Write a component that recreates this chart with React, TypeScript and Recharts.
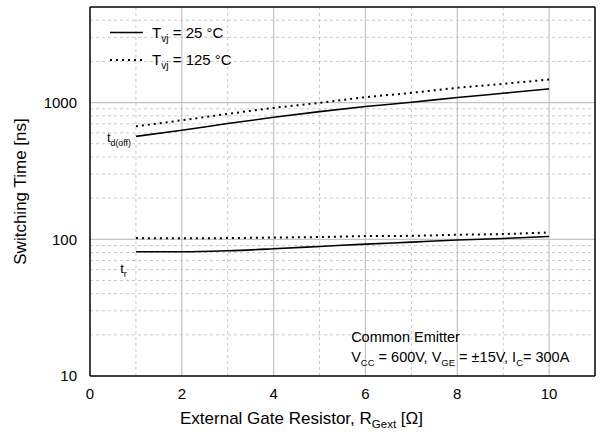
import React from 'react';
import {
  LineChart,
  Line,
  XAxis,
  YAxis,
  ReferenceLine,
  ReferenceDot,
  Label,
} from 'recharts';

// External gate resistor [Ohm]
const R_GEXT = [1, 2, 3, 4, 5, 6, 7, 8, 9, 10];
// switching times [ns]
const TD_OFF_25 = [566, 627, 702, 780, 859, 935, 1005, 1088, 1170, 1260];
const TD_OFF_125 = [670, 742, 826, 914, 995, 1094, 1178, 1282, 1371, 1473];
const TR_25 = [81, 81, 82.4, 85.2, 88.6, 92.2, 95.3, 98.7, 101.4, 104.9];
const TR_125 = [102, 101.8, 102, 103, 103.8, 105.5, 106, 107.9, 109.2, 112.2];

const X_TICKS = [0, 2, 4, 6, 8, 10];
const Y_TICKS = [10, 100, 1000];
const X_MAJOR = [2, 4, 6, 8, 10];
const X_MINOR = [1, 3, 5, 7, 9];
const Y_MAJOR = [100, 1000];
const Y_MINOR = [20, 30, 40, 50, 60, 70, 80, 90, 200, 300, 400, 500, 600, 700, 800, 900, 2000, 3000, 4000];

const FONT = '"Liberation Sans", Arial, sans-serif';

const chartData = R_GEXT.map((r, i) => ({
  r,
  td25: TD_OFF_25[i],
  td125: TD_OFF_125[i],
  tr25: TR_25[i],
  tr125: TR_125[i],
}));

const Sub = ({ x, y, main, sub, rest, size = 14 }: any) => (
  <text x={x} y={y} fontFamily={FONT} fontSize={size} fill="#000">
    <tspan>{main}</tspan>
    <tspan dy={4} fontSize={size * 0.68}>{sub}</tspan>
    {rest ? <tspan dy={-4}>{rest}</tspan> : null}
  </text>
);

const LegendBox = () => (
  <svg width={160} height={56} style={{ position: 'absolute', left: 105, top: 18 }}>
    <line x1={5} y1={14.5} x2={38} y2={14.5} stroke="#000" strokeWidth={1.5} />
    <Sub x={47} y={19.5} main="T" sub="vj" rest=" = 25 °C" size={15} />
    <line x1={5} y1={42} x2={38} y2={42} stroke="#000" strokeWidth={2} strokeDasharray="2 4" />
    <Sub x={47} y={47} main="T" sub="vj" rest=" = 125 °C" size={15} />
  </svg>
);

const App = () => {
  return (
    <div style={{ position: 'absolute', left: 0, top: 0, width: 603, height: 434, background: '#fff' }}>
      <LineChart
        width={603}
        height={434}
        data={chartData}
        margin={{ top: 7, right: 8, bottom: 0, left: 0 }}
      >
        {X_MINOR.map((v) => (
          <ReferenceLine key={`xm${v}`} x={v} stroke="#c8c8c8" strokeDasharray="3 3" />
        ))}
        {Y_MINOR.map((v) => (
          <ReferenceLine key={`ym${v}`} y={v} stroke="#c8c8c8" strokeDasharray="3 3" />
        ))}
        {X_MAJOR.map((v) => (
          <ReferenceLine key={`xM${v}`} x={v} stroke="#c4c4c4" strokeWidth={1.2} />
        ))}
        {Y_MAJOR.map((v) => (
          <ReferenceLine key={`yM${v}`} y={v} stroke="#c4c4c4" strokeWidth={1.2} />
        ))}
        <ReferenceLine x={11} stroke="#000" strokeWidth={1.5} />
        <ReferenceLine y={5000} stroke="#000" strokeWidth={1.5} />
        <XAxis
          dataKey="r"
          type="number"
          domain={[0, 11]}
          ticks={X_TICKS}
          allowDataOverflow
          height={58}
          tickLine={false}
          axisLine={{ stroke: '#000', strokeWidth: 1.5 }}
          tick={{ fontSize: 15, fill: '#000', fontFamily: FONT }}
          tickMargin={6}
        >
          <Label
            content={({ viewBox }: any) => (
              <text x={viewBox.x + 90} y={viewBox.y + 48} fontFamily={FONT} fontSize={17} fill="#000">
                <tspan>External Gate Resistor, R</tspan>
                <tspan dy={4} fontSize={11.5}>Gext</tspan>
                <tspan dy={-4}> [Ω]</tspan>
              </text>
            )}
          />
        </XAxis>
        <YAxis
          scale="log"
          domain={[10, 5000]}
          ticks={Y_TICKS}
          allowDataOverflow
          width={90}
          tickLine={false}
          axisLine={{ stroke: '#000', strokeWidth: 1.5 }}
          tick={{ fontSize: 15, fill: '#000', fontFamily: FONT }}
          tickMargin={7}
        >
          <Label
            value="Switching Time [ns]"
            angle={-90}
            position="insideLeft"
            offset={20}
            style={{ textAnchor: 'middle', fontSize: 17, fill: '#000', fontFamily: FONT }}
          />
        </YAxis>
        <ReferenceDot
          x={0.39}
          y={509}
          r={1}
          fill="none"
          stroke="none"
          label={({ viewBox }: any) => <Sub x={viewBox.x} y={viewBox.y} main="t" sub="d(off)" size={13} />}
        />
        <ReferenceDot
          x={0.68}
          y={56}
          r={1}
          fill="none"
          stroke="none"
          label={({ viewBox }: any) => <Sub x={viewBox.x} y={viewBox.y} main="t" sub="r" size={13} />}
        />
        <ReferenceDot
          x={5.71}
          y={17.5}
          r={1}
          fill="none"
          stroke="none"
          label={({ viewBox }: any) => (
            <text x={viewBox.x} y={viewBox.y} fontFamily={FONT} fontSize={14.5} fill="#000">
              Common Emitter
            </text>
          )}
        />
        <ReferenceDot
          x={5.71}
          y={12.5}
          r={1}
          fill="none"
          stroke="none"
          label={({ viewBox }: any) => (
            <text x={viewBox.x} y={viewBox.y} fontFamily={FONT} fontSize={14.5} fill="#000">
              <tspan>V</tspan>
              <tspan dy={4} fontSize={9.5}>CC</tspan>
              <tspan dy={-4}> = 600V, V</tspan>
              <tspan dy={4} fontSize={9.5}>GE</tspan>
              <tspan dy={-4}> = ±15V, I</tspan>
              <tspan dy={4} fontSize={9.5}>C</tspan>
              <tspan dy={-4}>= 300A</tspan>
            </text>
          )}
        />
        <Line type="monotone" dataKey="td25" stroke="#000" strokeWidth={1.6} dot={false} isAnimationActive={false} />
        <Line type="monotone" dataKey="td125" stroke="#000" strokeWidth={2} strokeDasharray="2 4" dot={false} isAnimationActive={false} />
        <Line type="monotone" dataKey="tr25" stroke="#000" strokeWidth={1.6} dot={false} isAnimationActive={false} />
        <Line type="monotone" dataKey="tr125" stroke="#000" strokeWidth={2} strokeDasharray="2 4" dot={false} isAnimationActive={false} />
      </LineChart>
      <LegendBox />
    </div>
  );
};

export default App;
